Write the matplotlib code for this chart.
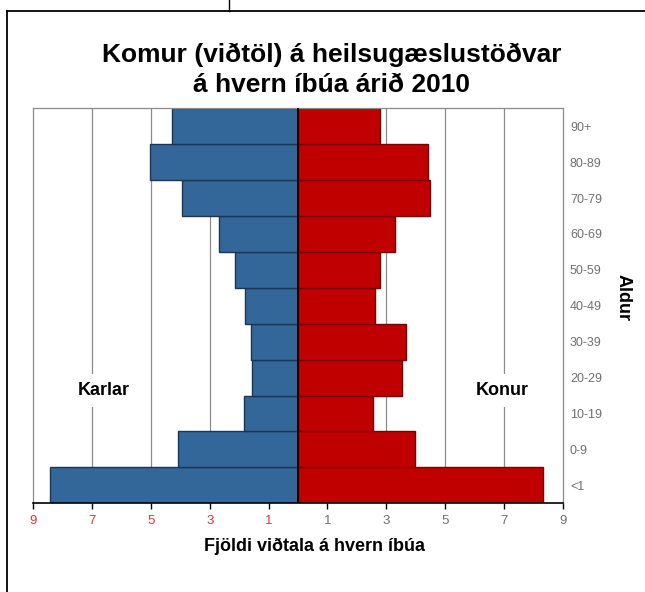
import numpy as np
import matplotlib.pyplot as plt
from matplotlib.lines import Line2D

# =====================================================================
# DADOS
# =====================================================================
aldur = ["<1", "0-9", "10-19", "20-29", "30-39", "40-49",
         "50-59", "60-69", "70-79", "80-89", "90+"]
karlar = [8.42, 4.07, 1.84, 1.56, 1.61, 1.81, 2.15, 2.69, 3.95, 5.03, 4.28]
konur = [8.31, 3.97, 2.56, 3.52, 3.67, 2.63, 2.78, 3.30, 4.49, 4.41, 2.78]
x_ticks = [-9, -7, -5, -3, -1, 1, 3, 5, 7, 9]

BLUE = "#336699"
RED = "#c00000"
LABEL_FONT = ["Liberation Sans Narrow", "Liberation Sans", "DejaVu Sans"]

plt.rcParams["font.family"] = ["Liberation Sans", "DejaVu Sans"]

W, H = 645, 592
fig = plt.figure(figsize=(W / 100, H / 100), dpi=100)
ax = fig.add_axes([33 / W, 1 - 503.3 / H, (563 - 33) / W, (503.3 - 108.3) / H])

y = np.arange(len(aldur))
ax.barh(y, -np.array(karlar), height=1.0, color=BLUE, edgecolor="#1c3553",
        linewidth=1.0, zorder=2)
ax.barh(y, konur, height=1.0, color=RED, edgecolor="#7a0000",
        linewidth=1.0, zorder=2)
ax.axvline(0, color="black", linewidth=1.4, zorder=3)

ax.set_xlim(-9, 9)
ax.set_ylim(-0.5, len(aldur) - 0.5)

# grade vertical
for gx in [-7, -5, -3, -1, 1, 3, 5, 7]:
    ax.axvline(gx, color="#8c8c8c", linewidth=0.9, zorder=1)

# eixo x: valores absolutos, negativos em vermelho
ax.set_xticks(x_ticks)
ax.set_xticklabels([str(abs(t)) for t in x_ticks], fontfamily=LABEL_FONT)
for lbl, t in zip(ax.get_xticklabels(), x_ticks):
    lbl.set_color("#d83a3a" if t < 0 else "#707070")
ax.tick_params(axis="x", direction="out", length=4, width=1, color="black",
               labelsize=9.5, pad=4.5)

# eixo y à direita
ax.yaxis.tick_right()
ax.set_yticks(y)
ax.set_yticklabels(aldur, fontfamily=LABEL_FONT)
ax.tick_params(axis="y", length=0, labelsize=9, labelcolor="#707070", pad=5)

for side in ["left", "top", "right"]:
    ax.spines[side].set_color("#8c8c8c")
    ax.spines[side].set_linewidth(0.9)
ax.spines["bottom"].set_color("black")
ax.spines["bottom"].set_linewidth(1.2)

# rótulos
fig.text(314 / W, 1 - 546 / H, "Fjöldi viðtala á hvern íbúa", fontsize=13,
         fontweight="bold", ha="center", va="center")

ax.text(-6.6, 2.64, "Karlar", fontsize=13, fontweight="bold", ha="center",
        va="center", zorder=4,
        bbox=dict(facecolor="white", edgecolor="none", pad=6))
ax.text(6.95, 2.64, "Konur", fontsize=13, fontweight="bold", ha="center",
        va="center", zorder=4,
        bbox=dict(facecolor="white", edgecolor="none", pad=6))

fig.text(623 / W, 1 - 297 / H, "Aldur", rotation=-90, fontsize=13,
         fontweight="bold", ha="center", va="center")

fig.text(331.5 / W, 1 - 70 / H, "Komur (viðtöl) á heilsugæslustöðvar\ná hvern íbúa árið 2010",
         fontsize=19, fontweight="bold", ha="center", va="center",
         linespacing=1.3)

# moldura
fig.add_artist(Line2D([7.3 / W, 1], [1 - 11.3 / H, 1 - 11.3 / H],
                      color="black", linewidth=1.3, transform=fig.transFigure))
fig.add_artist(Line2D([7.3 / W, 7.3 / W], [0, 1 - 11.3 / H],
                      color="black", linewidth=1.3, transform=fig.transFigure))
fig.add_artist(Line2D([229.3 / W, 229.3 / W], [1 - 11.3 / H, 1],
                      color="black", linewidth=1.0, transform=fig.transFigure))

fig.savefig("out.png", dpi=100)
